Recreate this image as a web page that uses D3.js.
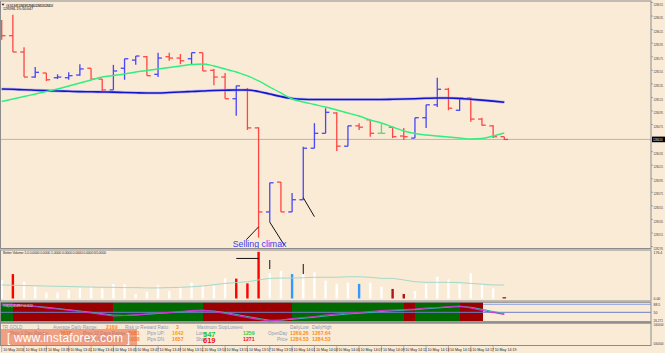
<!DOCTYPE html>
<html>
<head>
<meta charset="utf-8">
<script src="https://cdn.jsdelivr.net/npm/d3@7"></script>
<style>
body{margin:0;background:#faebd7;}
svg{display:block;}
text{font-family:"Liberation Sans",Arial,sans-serif;}
</style>
</head>
<body>
<div id="canvas"></div>
<script>
var w = 665;
var h = 353;

// ---- price bars (GOLD, M1) ----
var opens  = [1286.22,1286.06,1285.82,1285.45,1285.51,1285.44,1285.44,1285.48,1285.58,1285.42,
              1285.26,1285.58,1285.70,1285.75,1285.49,1285.75,1285.73,1285.72,1285.81,1285.55,
              1285.45,1285.13,1285.26,1284.70,1283.46,1283.90,1283.46,1283.64,1284.40,1284.62,
              1284.92,1284.43,1284.73,1284.82,1284.62,1284.71,1284.58,1284.55,1284.85,1285.04,
              1285.27,1284.96,1285.14,1284.83,1284.73,1284.57];
var highs  = [1286.29,1286.37,1285.89,1285.60,1285.51,1285.49,1285.52,1285.64,1285.58,1285.42,
              1285.63,1285.72,1285.76,1285.76,1285.81,1285.81,1285.79,1285.81,1285.81,1285.57,
              1285.51,1285.32,1285.29,1284.71,1283.89,1283.90,1283.74,1284.42,1284.77,1284.99,
              1284.93,1284.73,1284.77,1284.82,1284.76,1284.71,1284.70,1284.85,1285.04,1285.44,
              1285.29,1285.14,1285.15,1284.85,1284.74,1284.57];
var lows   = [1286.00,1285.82,1285.45,1285.44,1285.39,1285.42,1285.41,1285.47,1285.41,1285.24,
              1285.26,1285.41,1285.63,1285.47,1285.45,1285.69,1285.64,1285.64,1285.54,1285.33,
              1285.13,1284.88,1284.67,1283.08,1283.31,1283.46,1283.46,1283.64,1284.40,1284.62,
              1284.36,1284.43,1284.67,1284.57,1284.62,1284.55,1284.52,1284.55,1284.70,1285.01,
              1284.96,1284.95,1284.79,1284.73,1284.55,1284.52];
var closes = [1286.06,1285.82,1285.45,1285.52,1285.41,1285.45,1285.47,1285.57,1285.42,1285.26,
              1285.54,1285.72,1285.76,1285.47,1285.73,1285.73,1285.69,1285.81,1285.54,1285.45,
              1285.13,1285.32,1284.70,1283.46,1283.89,1283.46,1283.64,1284.40,1284.62,1284.93,
              1284.43,1284.73,1284.71,1284.62,1284.62,1284.57,1284.57,1284.85,1285.04,1285.27,
              1284.99,1285.14,1284.83,1284.74,1284.57,1284.53];

// moving averages
var maSlow = [1285.274,1285.269,1285.262,1285.256,1285.250,1285.244,1285.240,1285.235,1285.233,1285.230,
              1285.227,1285.222,1285.218,1285.215,1285.215,1285.222,1285.230,1285.237,1285.244,1285.252,
              1285.256,1285.259,1285.259,1285.237,1285.200,1285.163,1285.134,1285.122,1285.119,1285.119,
              1285.119,1285.119,1285.119,1285.119,1285.119,1285.122,1285.126,1285.131,1285.137,1285.141,
              1285.141,1285.134,1285.122,1285.109,1285.095,1285.079];
var maFast = [1285.089,1285.126,1285.163,1285.200,1285.237,1285.274,1285.318,1285.362,1285.407,1285.451,
              1285.473,1285.495,1285.525,1285.547,1285.569,1285.591,1285.613,1285.635,1285.643,1285.613,
              1285.569,1285.525,1285.466,1285.392,1285.303,1285.215,1285.126,1285.082,1285.045,1285.008,
              1284.964,1284.920,1284.875,1284.816,1284.772,1284.713,1284.654,1284.617,1284.595,1284.580,
              1284.566,1284.551,1284.536,1284.543,1284.580,1284.625];

// Better Volume
var volumes = [70,92,63,44,23,23,32,38,44,38,55,54,16,26,51,28,44,60,48,47,
               76,75,57,176,95,104,92,92,99,67,55,60,55,60,44,36,17,28,55,82,
               72,54,95,54,38,5];
var volKind = ["n","climax","n","n","n","n","n","n","n","n","n","n","n","n","n","n","n","n","n","n",
               "n","climax","climax","climax","n","n","churn","n","n","n","n","n","churn","n","n","low","low","n","n","n",
               "n","n","n","n","n","low"];
var volAvg = [51,50,49,48,47,46,45,44,43,42,42,41,41,40,40,41,42,44,47,52,
              57,60,63,70,76,77,77,78,80,80,80,82,82,80,76,76,70,63,61,61,
              61,60,57,54,51,51];

// oscillator sub-window
var oscMain   = [89.9,88.5,82.7,77.9,71.7,65.9,60.2,53.9,46.7,39.5,32.3,34.7,38.1,41.9,45.8,50.1,53.9,57.8,61.1,53.9,
                 44.3,34.7,25.1,15.5,8.3,13.1,20.3,25.1,29.9,37.1,41.9,46.7,49.1,53.9,58.7,61.1,63.5,65.9,70.7,73.1,
                 77.9,80.3,70.7,58.7,49.1,40.5];
var oscSignal = [85.1,85.1,82.7,78.9,74.1,68.3,62.6,56.3,50.1,43.4,37.1,34.7,37.1,40.5,44.3,47.7,51.5,54.9,57.8,56.3,
                 49.1,39.5,29.9,20.3,12.1,11.7,16.5,21.7,26.5,32.3,37.1,41.9,45.3,49.6,53.9,57.3,60.2,63.0,66.9,70.7,
                 74.6,77.9,74.6,64.5,53.9,44.3];
var trendBand = ["up","dn","dn","dn","dn","dn","dn","dn","dn","dn","up","up","up","up","up","up","up","up","dn","dn",
                 "dn","dn","dn","dn","dn","dn","up","up","up","up","up","up","up","up","up","up","dn","up","up","up",
                 "up","dn","dn","","",""];
var oscLevels = [88.5, 50];

// axis labels
var priceTicks = [1286.55,1286.35,1286.15,1285.95,1285.75,1285.55,1285.35,1285.15,1284.95,1284.75,
                  1284.35,1284.15,1283.95,1283.75,1283.55,1283.35,1283.15,1282.95];
var timeLabels = ["10 May 2016","10 May 13:37","10 May 13:39","10 May 13:41","10 May 13:43","10 May 13:45",
                  "10 May 13:47","10 May 13:49","10 May 13:51","10 May 13:53","10 May 13:55","10 May 13:57",
                  "10 May 13:59","10 May 14:01","10 May 14:03","10 May 14:05","10 May 14:07","10 May 14:09",
                  "10 May 14:11","10 May 14:13","10 May 14:15","10 May 14:17","10 May 14:19"];

// annotations drawn on the chart (bar index, price)
var trendLines = [
  {i1:21.9, p1:1283.05, i2:23, p2:1283.24},
  {i1:24, p1:1283.31, i2:25.3, p2:1282.97},
  {i1:27, p1:1283.67, i2:28, p2:1283.39}
];

// info panel
var infoRow1 = [["TR GOLD","lab"],["1","lab"],["Average Daily Range:","lab"],["2169","org"],["Risk to Reward Ratio:","lab"],["3","org"],["Maximum StopLosses:","lab"],["DailyLow","lab"],["DailyHigh","lab"]];
var infoRow2 = [["Prev 1 Day Range:","lab"],["2616","org"],["Prev 10 Days Range:","lab"],["2081","org"],["Pips UP:","lab"],["1642","gold"],["Long:","lab"],["547","grnB"],["1259","grn"],["OpenDay","lab"],["1269.26","org"],["1267.64","org"]];
var infoRow3 = [["Prev 5 Days Range:","lab"],["1938","org"],["Pips DN:","lab"],["1657","org"],["Short:","lab"],["619","redB"],["1271","red"],["Price","lab"],["1284.53","org"],["1284.53","org"]];

var bg = "#faebd7";
var frame = "#8c8c8c";
var axR = 651;

var svg = d3.select("#canvas").append("svg")
    .attr("width", w)
    .attr("height", h)
    .style("background-color", bg);

var x = d3.scaleLinear().domain([0, 45]).range([1.7, 504.3]);
var y = d3.scaleLinear().domain([1282.95, 1286.55]).range([246.5, 2.5]);
var yv = d3.scaleLinear().domain([0, 176.4]).range([298.5, 251.7]);
var yo = d3.scaleLinear().domain([8.3, 88.5]).range([321, 304.3]);

svg.append("clipPath").attr("id", "mainClip")
  .append("rect").attr("x", 0).attr("y", 1).attr("width", axR).attr("height", 247);

// ---------- main window ----------
var main = svg.append("g").attr("clip-path", "url(#mainClip)");
var last = closes[closes.length - 1];

main.append("line")
  .attr("x1", 0).attr("x2", axR)
  .attr("y1", y(last)).attr("y2", y(last))
  .attr("stroke", "#bdb5ab").attr("stroke-width", 1);

function barColor(i) {
  if (closes[i] > opens[i]) return "#2a2aff";
  if (closes[i] < opens[i]) return "#ff2a2a";
  return "#33dd55";
}

var bars = main.selectAll("g.bar")
  .data(d3.range(opens.length))
  .join("g")
  .attr("class", "bar")
  .attr("stroke", barColor)
  .attr("stroke-width", 1.3)
  .attr("opacity", 0.85);
bars.append("line")
  .attr("x1", function(i){ return x(i); }).attr("x2", function(i){ return x(i); })
  .attr("y1", function(i){ return y(highs[i]); })
  .attr("y2", function(i){ return y(lows[i]); });
bars.append("line")
  .attr("x1", function(i){ return x(i) - 3.8; }).attr("x2", function(i){ return x(i); })
  .attr("y1", function(i){ return y(opens[i]); })
  .attr("y2", function(i){ return y(opens[i]); });
bars.append("line")
  .attr("x1", function(i){ return x(i); }).attr("x2", function(i){ return x(i) + 3.8; })
  .attr("y1", function(i){ return y(closes[i]); })
  .attr("y2", function(i){ return y(closes[i]); });

var maLine = d3.line().x(function(d,i){ return x(i); }).y(function(d){ return y(d); }).curve(d3.curveMonotoneX);
main.append("path").datum(maSlow)
  .attr("d", maLine).attr("fill", "none")
  .attr("stroke", "#8f8ff0").attr("stroke-width", 3).attr("opacity", 0.5);
main.append("path").datum(maSlow)
  .attr("d", maLine).attr("fill", "none")
  .attr("stroke", "#1414d0").attr("stroke-width", 1.6);
main.append("path").datum(maFast)
  .attr("d", maLine).attr("fill", "none")
  .attr("stroke", "#30ee80").attr("stroke-width", 1.4);

main.selectAll("line.tl")
  .data(trendLines)
  .join("line")
  .attr("class", "tl")
  .attr("x1", function(d){ return x(d.i1); }).attr("y1", function(d){ return y(d.p1); })
  .attr("x2", function(d){ return x(d.i2); }).attr("y2", function(d){ return y(d.p2); })
  .attr("stroke", "#111").attr("stroke-width", 1);

svg.append("text")
  .attr("x", x(23) + 1).attr("y", 247)
  .attr("text-anchor", "middle")
  .attr("fill", "#3a3af0")
  .style("font-size", "8.8px")
  .text("Selling climax");

svg.append("text").attr("x", 6).attr("y", 6.5)
  .style("font-size", "3.8px").attr("fill", "#222")
  .attr("textLength", 47)
  .text("GOLD,M1  1284.58 1284.60 1284.53 1284.53");
svg.append("path").attr("d", "M1.5,3.8 L4.5,3.8 L3,5.8 Z").attr("fill", "#222");
svg.append("text").attr("x", 3).attr("y", 10)
  .style("font-size", "3.8px").attr("fill", "#222")
  .attr("textLength", 30)
  .text("12959SL   1% /10     0:47");

// price axis
svg.selectAll("line.ptick").data(priceTicks).join("line")
  .attr("class", "ptick")
  .attr("x1", axR).attr("x2", axR + 2)
  .attr("y1", function(d){ return y(d); }).attr("y2", function(d){ return y(d); })
  .attr("stroke", frame).attr("stroke-width", 0.7);
svg.selectAll("text.plab").data(priceTicks).join("text")
  .attr("class", "plab")
  .attr("x", axR + 2.5).attr("y", function(d){ return y(d) + 3.2; })
  .style("font-size", "3.5px").attr("fill", "#333")
  .attr("textLength", 9.5).attr("lengthAdjust", "spacingAndGlyphs")
  .text(function(d){ return d.toFixed(2); });
svg.append("rect")
  .attr("x", axR + 1).attr("y", y(last) - 2.8)
  .attr("width", 13).attr("height", 5.6).attr("fill", "#000");
svg.append("text")
  .attr("x", axR + 2).attr("y", y(last) + 1.4)
  .style("font-size", "3.5px").attr("fill", "#fff")
  .attr("textLength", 9.5).attr("lengthAdjust", "spacingAndGlyphs")
  .text(last.toFixed(2));

// ---------- volume window ----------
var volColor = {n: "#ffffff", climax: "#ff0000", churn: "#3399ff", low: "#b01515"};
svg.selectAll("rect.vol").data(volumes).join("rect")
  .attr("class", "vol")
  .attr("x", function(d,i){ return x(i) - (i === volumes.length - 1 ? 1.8 : 1.2); })
  .attr("width", function(d,i){ return i === volumes.length - 1 ? 3.6 : 2.4; })
  .attr("y", function(d){ return yv(d); })
  .attr("height", function(d){ return yv(0) - yv(d); })
  .attr("fill", function(d,i){ return volColor[volKind[i]]; });
svg.append("path").datum(volAvg)
  .attr("d", d3.line().x(function(d,i){ return x(i); }).y(function(d){ return yv(d); }))
  .attr("fill", "none").attr("stroke", "#a6d8c8").attr("stroke-width", 1);

// volume annotations
svg.append("line").attr("x1", x(21)).attr("x2", x(23)).attr("y1", yv(151)).attr("y2", yv(151))
  .attr("stroke", "#111").attr("stroke-width", 1);
svg.append("line").attr("x1", x(24)).attr("x2", x(24)).attr("y1", yv(145)).attr("y2", yv(111))
  .attr("stroke", "#111").attr("stroke-width", 1);
svg.append("line").attr("x1", x(27)).attr("x2", x(27)).attr("y1", yv(130)).attr("y2", yv(92))
  .attr("stroke", "#111").attr("stroke-width", 1);

svg.append("text").attr("x", 3).attr("y", 254)
  .style("font-size", "3.6px").attr("fill", "#333")
  .attr("textLength", 103)
  .text("Better Volume 1.0 0.0000 0.0000 1.0000 0.0000 0.0000 0.0000 65.0000");
svg.append("text").attr("x", axR + 2.5).attr("y", 253.5)
  .style("font-size", "3.5px").attr("fill", "#333").text("176.4");
svg.append("text").attr("x", axR + 2.5).attr("y", 300.3)
  .style("font-size", "3.5px").attr("fill", "#333").text("0.00");

// ---------- oscillator window ----------
svg.selectAll("line.lvl").data([oscLevels[0]]).join("line")
  .attr("class", "lvl")
  .attr("x1", 0).attr("x2", axR)
  .attr("y1", function(d){ return yo(d); }).attr("y2", function(d){ return yo(d); })
  .attr("stroke", "#8aa0e6").attr("stroke-width", 1);
svg.selectAll("rect.band").data(trendBand).join("rect")
  .attr("class", "band")
  .attr("x", function(d,i){ return i === 0 ? 0 : x(i); })
  .attr("width", function(d,i){ return x(i + 1) - (i === 0 ? 0 : x(i)) + 0.6; })
  .attr("y", 302.3).attr("height", 19.2)
  .attr("shape-rendering", "crispEdges")
  .attr("fill", function(d){ return d === "up" ? "#006a00" : d === "dn" ? "#9a0000" : "none"; });
svg.append("line")
  .attr("x1", 0).attr("x2", axR).attr("y1", yo(oscLevels[1])).attr("y2", yo(oscLevels[1]))
  .attr("stroke", "#6f7fcc").attr("stroke-width", 1);
svg.append("line")
  .attr("x1", 0).attr("x2", axR).attr("y1", 321.8).attr("y2", 321.8)
  .attr("stroke", "#7f96dc").attr("stroke-width", 1.6);
var oscLine = d3.line().x(function(d,i){ return x(i); }).y(function(d){ return yo(d); });
svg.append("path").datum(oscSignal)
  .attr("d", oscLine).attr("fill", "none").attr("stroke", "#33b0b0").attr("stroke-width", 1.1);
svg.append("path").datum(oscMain)
  .attr("d", oscLine).attr("fill", "none").attr("stroke", "#d030d0").attr("stroke-width", 1.2);
svg.append("text").attr("x", 3).attr("y", 306.5)
  .style("font-size", "3.6px").attr("fill", "#ccc")
  .attr("textLength", 30)
  .text("RSI(14) 40.4857 44.3172");
svg.append("text").attr("x", axR + 2.5).attr("y", yo(88.5) + 1.5)
  .style("font-size", "3.5px").attr("fill", "#333").text("88.5");
svg.append("text").attr("x", axR + 2.5).attr("y", yo(50) + 1.5)
  .style("font-size", "3.5px").attr("fill", "#333").text("50");
svg.append("text").attr("x", axR + 2.5).attr("y", 321.5)
  .style("font-size", "3.5px").attr("fill", "#333")
  .attr("textLength", 9.5).attr("lengthAdjust", "spacingAndGlyphs").text("26.271");

// ---------- info window ----------
var infoColor = {lab: "#8a9ab8", org: "#ff8c1a", gold: "#f0a800", grn: "#33cc33", grnB: "#22cc22", red: "#ee1111", redB: "#ee1111"};
var col1 = [2, 37, 53, 106, 125, 176, 197, 290, 312];
var col2 = [10, 60, 83, 128, 147, 172, 196, 203, 243, 268, 290, 312];
var col3 = [83, 128, 147, 172, 196, 203, 243, 277, 290, 312];
function infoRow(row, cols, yy) {
  svg.append("g").selectAll("text").data(row).join("text")
    .attr("x", function(d,i){ return cols[i]; })
    .attr("y", function(d){ return d[1] === "grnB" || d[1] === "redB" ? yy + 1.6 : yy; })
    .attr("fill", function(d){ return infoColor[d[1]]; })
    .style("font-size", function(d){ return d[1] === "grnB" || d[1] === "redB" ? "7.5px" : d[1] === "lab" ? "4.6px" : "5.2px"; })
    .style("font-weight", function(d){ return d[1] === "lab" ? "normal" : "bold"; })
    .text(function(d){ return d[0]; });
}
infoRow(infoRow1, col1, 328.5);
infoRow(infoRow2, col2, 335);
infoRow(infoRow3, col3, 341);
svg.append("text").attr("x", axR + 2.5).attr("y", 326)
  .style("font-size", "3.5px").attr("fill", "#333")
  .attr("textLength", 10).attr("lengthAdjust", "spacingAndGlyphs").text("1000000");
svg.append("text").attr("x", axR + 2.5).attr("y", 344.5)
  .style("font-size", "3.5px").attr("fill", "#333")
  .attr("textLength", 10).attr("lengthAdjust", "spacingAndGlyphs").text("0000000");

// watermark
svg.append("rect").attr("x", 0).attr("y", 329).attr("width", 137).attr("height", 16.5)
  .attr("fill", "#e5603c").attr("opacity", 0.55);
svg.append("text").attr("x", 7).attr("y", 341.5)
  .style("font-size", "12px").attr("fill", "#fff")
  .attr("textLength", 123).attr("lengthAdjust", "spacing")
  .text("[  www.instaforex.com  ]");

// ---------- frames ----------
var panels = [[1, 248.5], [250, 301], [302.3, 322.6], [323.2, 345.5]];
svg.selectAll("rect.frame").data(panels).join("rect")
  .attr("class", "frame")
  .attr("x", 0.5).attr("y", function(d){ return d[0]; })
  .attr("width", axR - 0.5).attr("height", function(d){ return d[1] - d[0]; })
  .attr("fill", "none").attr("stroke", frame).attr("stroke-width", 1);

// ---------- time axis ----------
svg.selectAll("line.ttick").data(timeLabels).join("line")
  .attr("class", "ttick")
  .attr("x1", function(d,i){ return x(i * 2); }).attr("x2", function(d,i){ return x(i * 2); })
  .attr("y1", 345.5).attr("y2", 352)
  .attr("stroke", frame).attr("stroke-width", 0.6);
svg.selectAll("text.tlab").data(timeLabels).join("text")
  .attr("class", "tlab")
  .attr("x", function(d,i){ return x(i * 2) + 1.5; })
  .attr("y", 350.8)
  .style("font-size", "3.6px").attr("fill", "#222")
  .text(function(d){ return d; });
</script>
</body>
</html>
